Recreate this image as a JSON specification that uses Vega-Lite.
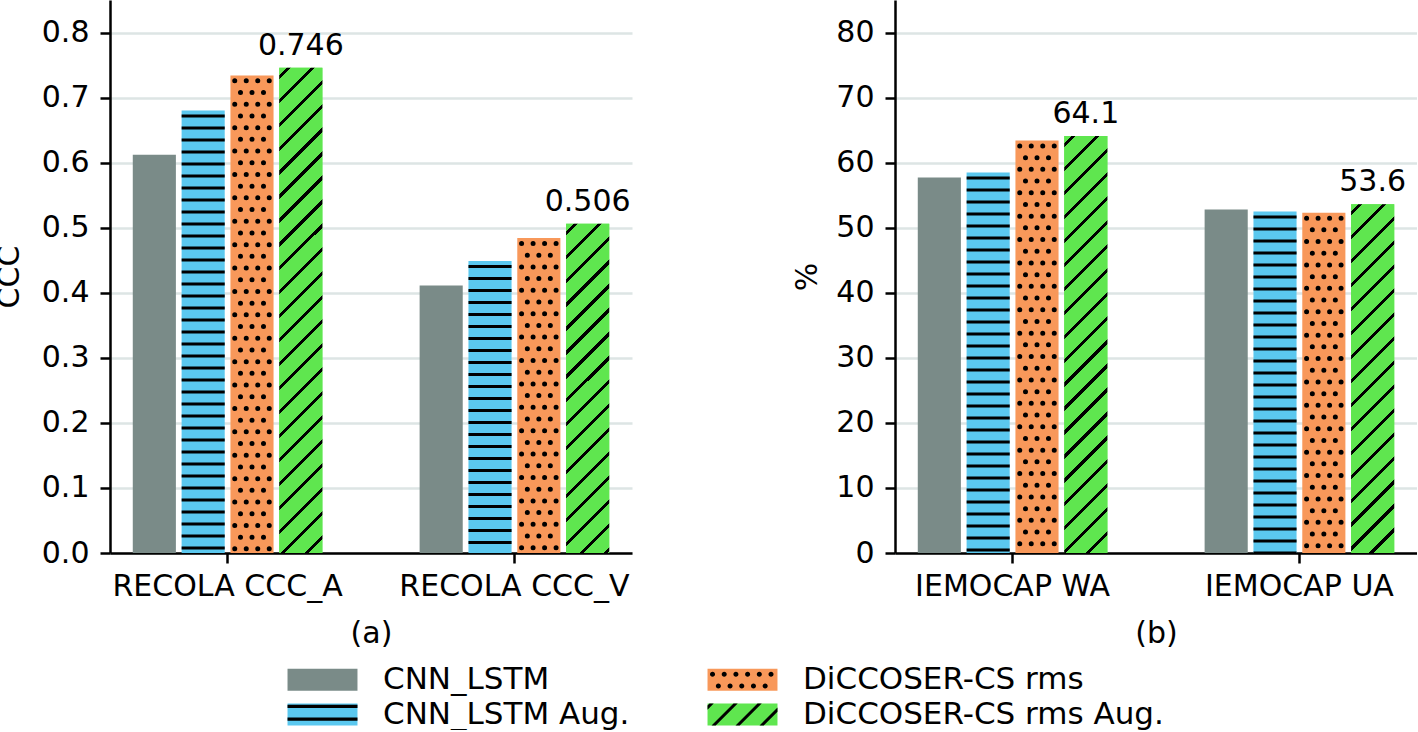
{
  "$schema": "https://vega.github.io/schema/vega-lite/v6.json",
  "padding": {"left": -6, "top": 0, "right": 0, "bottom": 0},
  "spacing": 263,
  "bounds": "flush",
  "resolve": {"scale": {"color": "independent", "shape": "independent"}, "legend": {"color": "independent", "shape": "independent"}},
  "datasets": {
    "bars": [
      {"panel": "a", "group": "RECOLA CCC_A", "series": "CNN_LSTM", "value": 0.612},
      {"panel": "a", "group": "RECOLA CCC_A", "series": "CNN_LSTM Aug.", "value": 0.680},
      {"panel": "a", "group": "RECOLA CCC_A", "series": "DiCCOSER-CS rms", "value": 0.734},
      {"panel": "a", "group": "RECOLA CCC_A", "series": "DiCCOSER-CS rms Aug.", "value": 0.746},
      {"panel": "a", "group": "RECOLA CCC_V", "series": "CNN_LSTM", "value": 0.411},
      {"panel": "a", "group": "RECOLA CCC_V", "series": "CNN_LSTM Aug.", "value": 0.449},
      {"panel": "a", "group": "RECOLA CCC_V", "series": "DiCCOSER-CS rms", "value": 0.484},
      {"panel": "a", "group": "RECOLA CCC_V", "series": "DiCCOSER-CS rms Aug.", "value": 0.506},
      {"panel": "b", "group": "IEMOCAP WA", "series": "CNN_LSTM", "value": 57.7},
      {"panel": "b", "group": "IEMOCAP WA", "series": "CNN_LSTM Aug.", "value": 58.5},
      {"panel": "b", "group": "IEMOCAP WA", "series": "DiCCOSER-CS rms", "value": 63.4},
      {"panel": "b", "group": "IEMOCAP WA", "series": "DiCCOSER-CS rms Aug.", "value": 64.1},
      {"panel": "b", "group": "IEMOCAP UA", "series": "CNN_LSTM", "value": 52.8},
      {"panel": "b", "group": "IEMOCAP UA", "series": "CNN_LSTM Aug.", "value": 52.5},
      {"panel": "b", "group": "IEMOCAP UA", "series": "DiCCOSER-CS rms", "value": 52.3},
      {"panel": "b", "group": "IEMOCAP UA", "series": "DiCCOSER-CS rms Aug.", "value": 53.6}
    ]
  },
  "config": {
    "font": "DejaVu Sans",
    "view": {"stroke": null},
    "axis": {"labelFont": "DejaVu Sans", "labelFontSize": 30, "labelColor": "#000", "labelLimit": 0, "titleFont": "DejaVu Sans", "titleFontSize": 30, "titleFontWeight": "normal", "titleColor": "#000", "domainColor": "#000", "domainWidth": 2.5, "tickColor": "#000", "tickWidth": 2.5, "tickSize": 10},
    "axisX": {"grid": false, "labelAngle": 0, "labelPadding": 8, "titlePadding": 17},
    "axisY": {"grid": true, "gridColor": "#dde5e4", "gridWidth": 2.5, "labelPadding": 11}
  },
  "hconcat": [
    {
      "width": 522, "height": 553,
      "data": {"name": "bars"},
      "transform": [{"filter": "datum.panel === 'a'"}],
      "layer": [
        {
          "mark": {"type": "bar"},
          "encoding": {
            "x": {"field": "group", "type": "nominal", "sort": ["RECOLA CCC_A", "RECOLA CCC_V"], "title": "(a)", "scale": {"paddingInner": 0.339, "paddingOuter": 0.0794}},
            "xOffset": {"field": "series", "type": "nominal", "sort": ["CNN_LSTM", "CNN_LSTM Aug.", "DiCCOSER-CS rms", "DiCCOSER-CS rms Aug."], "scale": {"paddingInner": 0.117, "paddingOuter": 0}},
            "y": {"field": "value", "type": "quantitative", "title": "CCC", "scale": {"domain": [0, 0.85], "nice": false}, "axis": {"values": [0, 0.1, 0.2, 0.3, 0.4, 0.5, 0.6, 0.7, 0.8], "format": ".1f", "titlePadding": 17}},
            "color": {"field": "series", "type": "nominal",
              "scale": {"domain": ["CNN_LSTM", "CNN_LSTM Aug.", "DiCCOSER-CS rms", "DiCCOSER-CS rms Aug."], "range": ["#7a8b88", "#5bc8ef", "#f8985a", "#5fe64f"]},
              "legend": {"orient": "none", "legendX": 197, "legendY": 664, "columns": 2, "title": null, "padding": 0, "zindex": 0,
                "symbolType": "M-3.18,-1H3.18V1H-3.18Z", "symbolSize": 484, "symbolStrokeWidth": 0, "symbolOpacity": 1,
                "labelFontSize": 31, "labelFont": "DejaVu Sans", "labelColor": "#000", "labelLimit": 0, "labelOffset": 45, "rowPadding": 3, "columnPadding": 77}
            }
          }
        },
        {
          "mark": {"type": "point", "filled": true, "opacity": 0, "color": "#000"},
          "encoding": {
            "x": {"field": "group", "type": "nominal", "sort": ["RECOLA CCC_A", "RECOLA CCC_V"], "title": "(a)"},
            "y": {"field": "value", "type": "quantitative", "title": "CCC", "scale": {"domain": [0, 0.85], "nice": false}},
            "shape": {"field": "series", "type": "nominal", "sort": ["CNN_LSTM", "CNN_LSTM Aug.", "DiCCOSER-CS rms", "DiCCOSER-CS rms Aug."],
              "scale": {
                "range": [
                  "M0,0Z",
                  "M-3.18,-0.88H3.18V-0.58H-3.18ZM-3.18,0.27H3.18V0.57H-3.18Z",
                  "M-2.955,-0.5a0.23,0.23 0 1,0 0.46,0a0.23,0.23 0 1,0 -0.46,0M-1.892,-0.5a0.23,0.23 0 1,0 0.46,0a0.23,0.23 0 1,0 -0.46,0M-0.828,-0.5a0.23,0.23 0 1,0 0.46,0a0.23,0.23 0 1,0 -0.46,0M0.235,-0.5a0.23,0.23 0 1,0 0.46,0a0.23,0.23 0 1,0 -0.46,0M1.299,-0.5a0.23,0.23 0 1,0 0.46,0a0.23,0.23 0 1,0 -0.46,0M2.363,-0.5a0.23,0.23 0 1,0 0.46,0a0.23,0.23 0 1,0 -0.46,0M-2.424,0.564a0.23,0.23 0 1,0 0.46,0a0.23,0.23 0 1,0 -0.46,0M-1.36,0.564a0.23,0.23 0 1,0 0.46,0a0.23,0.23 0 1,0 -0.46,0M-0.296,0.564a0.23,0.23 0 1,0 0.46,0a0.23,0.23 0 1,0 -0.46,0M0.767,0.564a0.23,0.23 0 1,0 0.46,0a0.23,0.23 0 1,0 -0.46,0M1.831,0.564a0.23,0.23 0 1,0 0.46,0a0.23,0.23 0 1,0 -0.46,0",
                  "M-2.998,-1L-2.616,-1L-3.18,-0.436L-3.18,-0.818ZM-0.816,-1L-0.435,-1L-2.435,1L-2.816,1ZM1.365,-1L1.747,-1L-0.253,1L-0.635,1ZM3.18,-0.636L3.18,-0.255L1.929,1L1.547,1Z"
                ]},
              "legend": {"orient": "none", "legendX": 197, "legendY": 664, "columns": 2, "title": null, "padding": 0, "zindex": 1,
                "symbolSize": 484, "symbolStrokeWidth": 0, "symbolOpacity": 1, "symbolFillColor": "#000",
                "labelFontSize": 31, "labelFont": "DejaVu Sans", "labelColor": "transparent", "labelLimit": 0, "labelOffset": 45, "rowPadding": 3, "columnPadding": 77}
            }
          }
        },
        {
          "transform": [{"filter": "datum.series === 'CNN_LSTM Aug.'"}],
          "mark": {"type": "rule", "color": "#000", "strokeWidth": 43.1, "strokeDash": [3, 9], "strokeDashOffset": 8},
          "encoding": {
            "x": {"field": "group", "type": "nominal", "sort": ["RECOLA CCC_A", "RECOLA CCC_V"], "title": "(a)", "bandPosition": 0.3713},
            "y": {"field": "value", "type": "quantitative", "title": "CCC", "scale": {"domain": [0, 0.85], "nice": false}},
            "y2": {"datum": 0}
          }
        },
        {
          "transform": [{"filter": "datum.series === 'DiCCOSER-CS rms'"}],
          "mark": {"type": "rule", "color": "#000", "strokeWidth": 5, "strokeCap": "round", "strokeDash": [0, 23.4], "strokeDashOffset": 18, "xOffset": -17.25},
          "encoding": {"x": {"field": "group", "type": "nominal", "sort": ["RECOLA CCC_A", "RECOLA CCC_V"], "title": "(a)", "bandPosition": 0.6288}, "y": {"field": "value", "type": "quantitative", "title": "CCC", "scale": {"domain": [0, 0.85], "nice": false}}, "y2": {"datum": 0}}
        },
        {
          "transform": [{"filter": "datum.series === 'DiCCOSER-CS rms'"}],
          "mark": {"type": "rule", "color": "#000", "strokeWidth": 5, "strokeCap": "round", "strokeDash": [0, 23.4], "strokeDashOffset": 6.3, "xOffset": -11.5},
          "encoding": {"x": {"field": "group", "type": "nominal", "sort": ["RECOLA CCC_A", "RECOLA CCC_V"], "title": "(a)", "bandPosition": 0.6288}, "y": {"field": "value", "type": "quantitative", "title": "CCC", "scale": {"domain": [0, 0.85], "nice": false}}, "y2": {"datum": 0}}
        },
        {
          "transform": [{"filter": "datum.series === 'DiCCOSER-CS rms'"}],
          "mark": {"type": "rule", "color": "#000", "strokeWidth": 5, "strokeCap": "round", "strokeDash": [0, 23.4], "strokeDashOffset": 18, "xOffset": -5.75},
          "encoding": {"x": {"field": "group", "type": "nominal", "sort": ["RECOLA CCC_A", "RECOLA CCC_V"], "title": "(a)", "bandPosition": 0.6288}, "y": {"field": "value", "type": "quantitative", "title": "CCC", "scale": {"domain": [0, 0.85], "nice": false}}, "y2": {"datum": 0}}
        },
        {
          "transform": [{"filter": "datum.series === 'DiCCOSER-CS rms'"}],
          "mark": {"type": "rule", "color": "#000", "strokeWidth": 5, "strokeCap": "round", "strokeDash": [0, 23.4], "strokeDashOffset": 6.3, "xOffset": 0.01},
          "encoding": {"x": {"field": "group", "type": "nominal", "sort": ["RECOLA CCC_A", "RECOLA CCC_V"], "title": "(a)", "bandPosition": 0.6288}, "y": {"field": "value", "type": "quantitative", "title": "CCC", "scale": {"domain": [0, 0.85], "nice": false}}, "y2": {"datum": 0}}
        },
        {
          "transform": [{"filter": "datum.series === 'DiCCOSER-CS rms'"}],
          "mark": {"type": "rule", "color": "#000", "strokeWidth": 5, "strokeCap": "round", "strokeDash": [0, 23.4], "strokeDashOffset": 18, "xOffset": 5.75},
          "encoding": {"x": {"field": "group", "type": "nominal", "sort": ["RECOLA CCC_A", "RECOLA CCC_V"], "title": "(a)", "bandPosition": 0.6288}, "y": {"field": "value", "type": "quantitative", "title": "CCC", "scale": {"domain": [0, 0.85], "nice": false}}, "y2": {"datum": 0}}
        },
        {
          "transform": [{"filter": "datum.series === 'DiCCOSER-CS rms'"}],
          "mark": {"type": "rule", "color": "#000", "strokeWidth": 5, "strokeCap": "round", "strokeDash": [0, 23.4], "strokeDashOffset": 6.3, "xOffset": 11.5},
          "encoding": {"x": {"field": "group", "type": "nominal", "sort": ["RECOLA CCC_A", "RECOLA CCC_V"], "title": "(a)", "bandPosition": 0.6288}, "y": {"field": "value", "type": "quantitative", "title": "CCC", "scale": {"domain": [0, 0.85], "nice": false}}, "y2": {"datum": 0}}
        },
        {
          "transform": [{"filter": "datum.series === 'DiCCOSER-CS rms'"}],
          "mark": {"type": "rule", "color": "#000", "strokeWidth": 5, "strokeCap": "round", "strokeDash": [0, 23.4], "strokeDashOffset": 18, "xOffset": 17.25},
          "encoding": {"x": {"field": "group", "type": "nominal", "sort": ["RECOLA CCC_A", "RECOLA CCC_V"], "title": "(a)", "bandPosition": 0.6288}, "y": {"field": "value", "type": "quantitative", "title": "CCC", "scale": {"domain": [0, 0.85], "nice": false}}, "y2": {"datum": 0}}
        },
        {
          "transform": [{"filter": "datum.series === 'DiCCOSER-CS rms Aug.' && datum.group === 'RECOLA CCC_A'"}],
          "mark": {"type": "bar", "fill": {"gradient": "linear", "x1": 0, "y1": 0, "x2": 0.09593, "y2": 1.0802, "stops": [
            {"offset": 0, "color": "#5fe64f"},
            {"offset": 0.0136, "color": "#5fe64f"}, {"offset": 0.0136, "color": "#000"}, {"offset": 0.0215, "color": "#000"}, {"offset": 0.0215, "color": "#5fe64f"},
            {"offset": 0.0590, "color": "#5fe64f"}, {"offset": 0.0590, "color": "#000"}, {"offset": 0.0669, "color": "#000"}, {"offset": 0.0669, "color": "#5fe64f"},
            {"offset": 0.1043, "color": "#5fe64f"}, {"offset": 0.1043, "color": "#000"}, {"offset": 0.1122, "color": "#000"}, {"offset": 0.1122, "color": "#5fe64f"},
            {"offset": 0.1497, "color": "#5fe64f"}, {"offset": 0.1497, "color": "#000"}, {"offset": 0.1576, "color": "#000"}, {"offset": 0.1576, "color": "#5fe64f"},
            {"offset": 0.1950, "color": "#5fe64f"}, {"offset": 0.1950, "color": "#000"}, {"offset": 0.2029, "color": "#000"}, {"offset": 0.2029, "color": "#5fe64f"},
            {"offset": 0.2404, "color": "#5fe64f"}, {"offset": 0.2404, "color": "#000"}, {"offset": 0.2483, "color": "#000"}, {"offset": 0.2483, "color": "#5fe64f"},
            {"offset": 0.2857, "color": "#5fe64f"}, {"offset": 0.2857, "color": "#000"}, {"offset": 0.2936, "color": "#000"}, {"offset": 0.2936, "color": "#5fe64f"},
            {"offset": 0.3311, "color": "#5fe64f"}, {"offset": 0.3311, "color": "#000"}, {"offset": 0.3390, "color": "#000"}, {"offset": 0.3390, "color": "#5fe64f"},
            {"offset": 0.3764, "color": "#5fe64f"}, {"offset": 0.3764, "color": "#000"}, {"offset": 0.3843, "color": "#000"}, {"offset": 0.3843, "color": "#5fe64f"},
            {"offset": 0.4218, "color": "#5fe64f"}, {"offset": 0.4218, "color": "#000"}, {"offset": 0.4297, "color": "#000"}, {"offset": 0.4297, "color": "#5fe64f"},
            {"offset": 0.4671, "color": "#5fe64f"}, {"offset": 0.4671, "color": "#000"}, {"offset": 0.4750, "color": "#000"}, {"offset": 0.4750, "color": "#5fe64f"},
            {"offset": 0.5125, "color": "#5fe64f"}, {"offset": 0.5125, "color": "#000"}, {"offset": 0.5204, "color": "#000"}, {"offset": 0.5204, "color": "#5fe64f"},
            {"offset": 0.5578, "color": "#5fe64f"}, {"offset": 0.5578, "color": "#000"}, {"offset": 0.5657, "color": "#000"}, {"offset": 0.5657, "color": "#5fe64f"},
            {"offset": 0.6032, "color": "#5fe64f"}, {"offset": 0.6032, "color": "#000"}, {"offset": 0.6111, "color": "#000"}, {"offset": 0.6111, "color": "#5fe64f"},
            {"offset": 0.6485, "color": "#5fe64f"}, {"offset": 0.6485, "color": "#000"}, {"offset": 0.6564, "color": "#000"}, {"offset": 0.6564, "color": "#5fe64f"},
            {"offset": 0.6939, "color": "#5fe64f"}, {"offset": 0.6939, "color": "#000"}, {"offset": 0.7018, "color": "#000"}, {"offset": 0.7018, "color": "#5fe64f"},
            {"offset": 0.7392, "color": "#5fe64f"}, {"offset": 0.7392, "color": "#000"}, {"offset": 0.7471, "color": "#000"}, {"offset": 0.7471, "color": "#5fe64f"},
            {"offset": 0.7846, "color": "#5fe64f"}, {"offset": 0.7846, "color": "#000"}, {"offset": 0.7925, "color": "#000"}, {"offset": 0.7925, "color": "#5fe64f"},
            {"offset": 0.8299, "color": "#5fe64f"}, {"offset": 0.8299, "color": "#000"}, {"offset": 0.8378, "color": "#000"}, {"offset": 0.8378, "color": "#5fe64f"},
            {"offset": 0.8753, "color": "#5fe64f"}, {"offset": 0.8753, "color": "#000"}, {"offset": 0.8832, "color": "#000"}, {"offset": 0.8832, "color": "#5fe64f"},
            {"offset": 0.9206, "color": "#5fe64f"}, {"offset": 0.9206, "color": "#000"}, {"offset": 0.9285, "color": "#000"}, {"offset": 0.9285, "color": "#5fe64f"},
            {"offset": 0.9660, "color": "#5fe64f"}, {"offset": 0.9660, "color": "#000"}, {"offset": 0.9739, "color": "#000"}, {"offset": 0.9739, "color": "#5fe64f"},
            {"offset": 1, "color": "#5fe64f"}]}},
          "encoding": {
            "x": {"field": "group", "type": "nominal", "sort": ["RECOLA CCC_A", "RECOLA CCC_V"], "title": "(a)"},
            "xOffset": {"field": "series", "type": "nominal", "sort": ["CNN_LSTM", "CNN_LSTM Aug.", "DiCCOSER-CS rms", "DiCCOSER-CS rms Aug."], "scale": {"domain": ["CNN_LSTM", "CNN_LSTM Aug.", "DiCCOSER-CS rms", "DiCCOSER-CS rms Aug."], "paddingInner": 0.117, "paddingOuter": 0}},
            "y": {"field": "value", "type": "quantitative", "title": "CCC", "scale": {"domain": [0, 0.85], "nice": false}}
          }
        },
        {
          "transform": [{"filter": "datum.series === 'DiCCOSER-CS rms Aug.' && datum.group === 'RECOLA CCC_V'"}],
          "mark": {"type": "bar", "fill": {"gradient": "linear", "x1": 0, "y1": 0, "x2": 0.14557, "y2": 1.1119, "stops": [
            {"offset": 0, "color": "#5fe64f"},
            {"offset": 0.0193, "color": "#5fe64f"}, {"offset": 0.0193, "color": "#000"}, {"offset": 0.0306, "color": "#000"}, {"offset": 0.0306, "color": "#5fe64f"},
            {"offset": 0.0836, "color": "#5fe64f"}, {"offset": 0.0836, "color": "#000"}, {"offset": 0.0949, "color": "#000"}, {"offset": 0.0949, "color": "#5fe64f"},
            {"offset": 0.1480, "color": "#5fe64f"}, {"offset": 0.1480, "color": "#000"}, {"offset": 0.1593, "color": "#000"}, {"offset": 0.1593, "color": "#5fe64f"},
            {"offset": 0.2123, "color": "#5fe64f"}, {"offset": 0.2123, "color": "#000"}, {"offset": 0.2236, "color": "#000"}, {"offset": 0.2236, "color": "#5fe64f"},
            {"offset": 0.2767, "color": "#5fe64f"}, {"offset": 0.2767, "color": "#000"}, {"offset": 0.2880, "color": "#000"}, {"offset": 0.2880, "color": "#5fe64f"},
            {"offset": 0.3410, "color": "#5fe64f"}, {"offset": 0.3410, "color": "#000"}, {"offset": 0.3523, "color": "#000"}, {"offset": 0.3523, "color": "#5fe64f"},
            {"offset": 0.4053, "color": "#5fe64f"}, {"offset": 0.4053, "color": "#000"}, {"offset": 0.4166, "color": "#000"}, {"offset": 0.4166, "color": "#5fe64f"},
            {"offset": 0.4697, "color": "#5fe64f"}, {"offset": 0.4697, "color": "#000"}, {"offset": 0.4810, "color": "#000"}, {"offset": 0.4810, "color": "#5fe64f"},
            {"offset": 0.5340, "color": "#5fe64f"}, {"offset": 0.5340, "color": "#000"}, {"offset": 0.5453, "color": "#000"}, {"offset": 0.5453, "color": "#5fe64f"},
            {"offset": 0.5984, "color": "#5fe64f"}, {"offset": 0.5984, "color": "#000"}, {"offset": 0.6097, "color": "#000"}, {"offset": 0.6097, "color": "#5fe64f"},
            {"offset": 0.6627, "color": "#5fe64f"}, {"offset": 0.6627, "color": "#000"}, {"offset": 0.6740, "color": "#000"}, {"offset": 0.6740, "color": "#5fe64f"},
            {"offset": 0.7270, "color": "#5fe64f"}, {"offset": 0.7270, "color": "#000"}, {"offset": 0.7383, "color": "#000"}, {"offset": 0.7383, "color": "#5fe64f"},
            {"offset": 0.7914, "color": "#5fe64f"}, {"offset": 0.7914, "color": "#000"}, {"offset": 0.8027, "color": "#000"}, {"offset": 0.8027, "color": "#5fe64f"},
            {"offset": 0.8557, "color": "#5fe64f"}, {"offset": 0.8557, "color": "#000"}, {"offset": 0.8670, "color": "#000"}, {"offset": 0.8670, "color": "#5fe64f"},
            {"offset": 0.9201, "color": "#5fe64f"}, {"offset": 0.9201, "color": "#000"}, {"offset": 0.9314, "color": "#000"}, {"offset": 0.9314, "color": "#5fe64f"},
            {"offset": 0.9844, "color": "#5fe64f"}, {"offset": 0.9844, "color": "#000"}, {"offset": 0.9957, "color": "#000"}, {"offset": 0.9957, "color": "#5fe64f"},
            {"offset": 1, "color": "#5fe64f"}]}},
          "encoding": {
            "x": {"field": "group", "type": "nominal", "sort": ["RECOLA CCC_A", "RECOLA CCC_V"], "title": "(a)"},
            "xOffset": {"field": "series", "type": "nominal", "sort": ["CNN_LSTM", "CNN_LSTM Aug.", "DiCCOSER-CS rms", "DiCCOSER-CS rms Aug."], "scale": {"domain": ["CNN_LSTM", "CNN_LSTM Aug.", "DiCCOSER-CS rms", "DiCCOSER-CS rms Aug."], "paddingInner": 0.117, "paddingOuter": 0}},
            "y": {"field": "value", "type": "quantitative", "title": "CCC", "scale": {"domain": [0, 0.85], "nice": false}}
          }
        },
        {
          "transform": [{"filter": "datum.series === 'DiCCOSER-CS rms Aug.'"}],
          "mark": {"type": "text", "fontSize": 30, "font": "DejaVu Sans", "color": "#000", "baseline": "alphabetic", "dy": -13},
          "encoding": {
            "x": {"field": "group", "type": "nominal", "sort": ["RECOLA CCC_A", "RECOLA CCC_V"], "title": "(a)", "bandPosition": 0.8863},
            "y": {"field": "value", "type": "quantitative", "title": "CCC", "scale": {"domain": [0, 0.85], "nice": false}},
            "text": {"field": "value", "type": "quantitative", "format": ".3f"}
          }
        }
      ]
    },
    {
      "width": 522, "height": 553,
      "data": {"name": "bars"},
      "transform": [{"filter": "datum.panel === 'b'"}],
      "layer": [
        {
          "mark": {"type": "bar"},
          "encoding": {
            "x": {"field": "group", "type": "nominal", "sort": ["IEMOCAP WA", "IEMOCAP UA"], "title": "(b)", "scale": {"paddingInner": 0.339, "paddingOuter": 0.0794}},
            "xOffset": {"field": "series", "type": "nominal", "sort": ["CNN_LSTM", "CNN_LSTM Aug.", "DiCCOSER-CS rms", "DiCCOSER-CS rms Aug."], "scale": {"paddingInner": 0.117, "paddingOuter": 0}},
            "y": {"field": "value", "type": "quantitative", "title": "%", "scale": {"domain": [0, 85], "nice": false}, "axis": {"values": [0, 10, 20, 30, 40, 50, 60, 70, 80], "format": "d", "titlePadding": 13}},
            "color": {"field": "series", "type": "nominal",
              "scale": {"domain": ["CNN_LSTM", "CNN_LSTM Aug.", "DiCCOSER-CS rms", "DiCCOSER-CS rms Aug."], "range": ["#7a8b88", "#5bc8ef", "#f8985a", "#5fe64f"]},
              "legend": null
            }
          }
        },
        {
          "transform": [{"filter": "datum.series === 'CNN_LSTM Aug.'"}],
          "mark": {"type": "rule", "color": "#000", "strokeWidth": 43.1, "strokeDash": [3, 9], "strokeDashOffset": 8},
          "encoding": {
            "x": {"field": "group", "type": "nominal", "sort": ["IEMOCAP WA", "IEMOCAP UA"], "title": "(b)", "bandPosition": 0.3713},
            "y": {"field": "value", "type": "quantitative", "title": "%", "scale": {"domain": [0, 85], "nice": false}},
            "y2": {"datum": 0}
          }
        },
        {
          "transform": [{"filter": "datum.series === 'DiCCOSER-CS rms'"}],
          "mark": {"type": "rule", "color": "#000", "strokeWidth": 5, "strokeCap": "round", "strokeDash": [0, 23.4], "strokeDashOffset": 18, "xOffset": -17.25},
          "encoding": {"x": {"field": "group", "type": "nominal", "sort": ["IEMOCAP WA", "IEMOCAP UA"], "title": "(b)", "bandPosition": 0.6288}, "y": {"field": "value", "type": "quantitative", "title": "%", "scale": {"domain": [0, 85], "nice": false}}, "y2": {"datum": 0}}
        },
        {
          "transform": [{"filter": "datum.series === 'DiCCOSER-CS rms'"}],
          "mark": {"type": "rule", "color": "#000", "strokeWidth": 5, "strokeCap": "round", "strokeDash": [0, 23.4], "strokeDashOffset": 6.3, "xOffset": -11.5},
          "encoding": {"x": {"field": "group", "type": "nominal", "sort": ["IEMOCAP WA", "IEMOCAP UA"], "title": "(b)", "bandPosition": 0.6288}, "y": {"field": "value", "type": "quantitative", "title": "%", "scale": {"domain": [0, 85], "nice": false}}, "y2": {"datum": 0}}
        },
        {
          "transform": [{"filter": "datum.series === 'DiCCOSER-CS rms'"}],
          "mark": {"type": "rule", "color": "#000", "strokeWidth": 5, "strokeCap": "round", "strokeDash": [0, 23.4], "strokeDashOffset": 18, "xOffset": -5.75},
          "encoding": {"x": {"field": "group", "type": "nominal", "sort": ["IEMOCAP WA", "IEMOCAP UA"], "title": "(b)", "bandPosition": 0.6288}, "y": {"field": "value", "type": "quantitative", "title": "%", "scale": {"domain": [0, 85], "nice": false}}, "y2": {"datum": 0}}
        },
        {
          "transform": [{"filter": "datum.series === 'DiCCOSER-CS rms'"}],
          "mark": {"type": "rule", "color": "#000", "strokeWidth": 5, "strokeCap": "round", "strokeDash": [0, 23.4], "strokeDashOffset": 6.3, "xOffset": 0.01},
          "encoding": {"x": {"field": "group", "type": "nominal", "sort": ["IEMOCAP WA", "IEMOCAP UA"], "title": "(b)", "bandPosition": 0.6288}, "y": {"field": "value", "type": "quantitative", "title": "%", "scale": {"domain": [0, 85], "nice": false}}, "y2": {"datum": 0}}
        },
        {
          "transform": [{"filter": "datum.series === 'DiCCOSER-CS rms'"}],
          "mark": {"type": "rule", "color": "#000", "strokeWidth": 5, "strokeCap": "round", "strokeDash": [0, 23.4], "strokeDashOffset": 18, "xOffset": 5.75},
          "encoding": {"x": {"field": "group", "type": "nominal", "sort": ["IEMOCAP WA", "IEMOCAP UA"], "title": "(b)", "bandPosition": 0.6288}, "y": {"field": "value", "type": "quantitative", "title": "%", "scale": {"domain": [0, 85], "nice": false}}, "y2": {"datum": 0}}
        },
        {
          "transform": [{"filter": "datum.series === 'DiCCOSER-CS rms'"}],
          "mark": {"type": "rule", "color": "#000", "strokeWidth": 5, "strokeCap": "round", "strokeDash": [0, 23.4], "strokeDashOffset": 6.3, "xOffset": 11.5},
          "encoding": {"x": {"field": "group", "type": "nominal", "sort": ["IEMOCAP WA", "IEMOCAP UA"], "title": "(b)", "bandPosition": 0.6288}, "y": {"field": "value", "type": "quantitative", "title": "%", "scale": {"domain": [0, 85], "nice": false}}, "y2": {"datum": 0}}
        },
        {
          "transform": [{"filter": "datum.series === 'DiCCOSER-CS rms'"}],
          "mark": {"type": "rule", "color": "#000", "strokeWidth": 5, "strokeCap": "round", "strokeDash": [0, 23.4], "strokeDashOffset": 18, "xOffset": 17.25},
          "encoding": {"x": {"field": "group", "type": "nominal", "sort": ["IEMOCAP WA", "IEMOCAP UA"], "title": "(b)", "bandPosition": 0.6288}, "y": {"field": "value", "type": "quantitative", "title": "%", "scale": {"domain": [0, 85], "nice": false}}, "y2": {"datum": 0}}
        },
        {
          "transform": [{"filter": "datum.series === 'DiCCOSER-CS rms Aug.' && datum.group === 'IEMOCAP WA'"}],
          "mark": {"type": "bar", "fill": {"gradient": "linear", "x1": 0, "y1": 0, "x2": 0.11283, "y2": 1.0916, "stops": [
            {"offset": 0, "color": "#5fe64f"},
            {"offset": 0.0156, "color": "#5fe64f"}, {"offset": 0.0156, "color": "#000"}, {"offset": 0.0247, "color": "#000"}, {"offset": 0.0247, "color": "#5fe64f"},
            {"offset": 0.0677, "color": "#5fe64f"}, {"offset": 0.0677, "color": "#000"}, {"offset": 0.0768, "color": "#000"}, {"offset": 0.0768, "color": "#5fe64f"},
            {"offset": 0.1197, "color": "#5fe64f"}, {"offset": 0.1197, "color": "#000"}, {"offset": 0.1288, "color": "#000"}, {"offset": 0.1288, "color": "#5fe64f"},
            {"offset": 0.1718, "color": "#5fe64f"}, {"offset": 0.1718, "color": "#000"}, {"offset": 0.1809, "color": "#000"}, {"offset": 0.1809, "color": "#5fe64f"},
            {"offset": 0.2239, "color": "#5fe64f"}, {"offset": 0.2239, "color": "#000"}, {"offset": 0.2330, "color": "#000"}, {"offset": 0.2330, "color": "#5fe64f"},
            {"offset": 0.2760, "color": "#5fe64f"}, {"offset": 0.2760, "color": "#000"}, {"offset": 0.2851, "color": "#000"}, {"offset": 0.2851, "color": "#5fe64f"},
            {"offset": 0.3280, "color": "#5fe64f"}, {"offset": 0.3280, "color": "#000"}, {"offset": 0.3371, "color": "#000"}, {"offset": 0.3371, "color": "#5fe64f"},
            {"offset": 0.3801, "color": "#5fe64f"}, {"offset": 0.3801, "color": "#000"}, {"offset": 0.3892, "color": "#000"}, {"offset": 0.3892, "color": "#5fe64f"},
            {"offset": 0.4322, "color": "#5fe64f"}, {"offset": 0.4322, "color": "#000"}, {"offset": 0.4413, "color": "#000"}, {"offset": 0.4413, "color": "#5fe64f"},
            {"offset": 0.4842, "color": "#5fe64f"}, {"offset": 0.4842, "color": "#000"}, {"offset": 0.4933, "color": "#000"}, {"offset": 0.4933, "color": "#5fe64f"},
            {"offset": 0.5363, "color": "#5fe64f"}, {"offset": 0.5363, "color": "#000"}, {"offset": 0.5454, "color": "#000"}, {"offset": 0.5454, "color": "#5fe64f"},
            {"offset": 0.5884, "color": "#5fe64f"}, {"offset": 0.5884, "color": "#000"}, {"offset": 0.5975, "color": "#000"}, {"offset": 0.5975, "color": "#5fe64f"},
            {"offset": 0.6404, "color": "#5fe64f"}, {"offset": 0.6404, "color": "#000"}, {"offset": 0.6495, "color": "#000"}, {"offset": 0.6495, "color": "#5fe64f"},
            {"offset": 0.6925, "color": "#5fe64f"}, {"offset": 0.6925, "color": "#000"}, {"offset": 0.7016, "color": "#000"}, {"offset": 0.7016, "color": "#5fe64f"},
            {"offset": 0.7446, "color": "#5fe64f"}, {"offset": 0.7446, "color": "#000"}, {"offset": 0.7537, "color": "#000"}, {"offset": 0.7537, "color": "#5fe64f"},
            {"offset": 0.7967, "color": "#5fe64f"}, {"offset": 0.7967, "color": "#000"}, {"offset": 0.8058, "color": "#000"}, {"offset": 0.8058, "color": "#5fe64f"},
            {"offset": 0.8487, "color": "#5fe64f"}, {"offset": 0.8487, "color": "#000"}, {"offset": 0.8578, "color": "#000"}, {"offset": 0.8578, "color": "#5fe64f"},
            {"offset": 0.9008, "color": "#5fe64f"}, {"offset": 0.9008, "color": "#000"}, {"offset": 0.9099, "color": "#000"}, {"offset": 0.9099, "color": "#5fe64f"},
            {"offset": 0.9529, "color": "#5fe64f"}, {"offset": 0.9529, "color": "#000"}, {"offset": 0.9620, "color": "#000"}, {"offset": 0.9620, "color": "#5fe64f"},
            {"offset": 1, "color": "#5fe64f"}]}},
          "encoding": {
            "x": {"field": "group", "type": "nominal", "sort": ["IEMOCAP WA", "IEMOCAP UA"], "title": "(b)"},
            "xOffset": {"field": "series", "type": "nominal", "sort": ["CNN_LSTM", "CNN_LSTM Aug.", "DiCCOSER-CS rms", "DiCCOSER-CS rms Aug."], "scale": {"domain": ["CNN_LSTM", "CNN_LSTM Aug.", "DiCCOSER-CS rms", "DiCCOSER-CS rms Aug."], "paddingInner": 0.117, "paddingOuter": 0}},
            "y": {"field": "value", "type": "quantitative", "title": "%", "scale": {"domain": [0, 85], "nice": false}}
          }
        },
        {
          "transform": [{"filter": "datum.series === 'DiCCOSER-CS rms Aug.' && datum.group === 'IEMOCAP UA'"}],
          "mark": {"type": "bar", "fill": {"gradient": "linear", "x1": 0, "y1": 0, "x2": 0.13679, "y2": 1.1067, "stops": [
            {"offset": 0, "color": "#5fe64f"},
            {"offset": 0.0183, "color": "#5fe64f"}, {"offset": 0.0183, "color": "#000"}, {"offset": 0.0290, "color": "#000"}, {"offset": 0.0290, "color": "#5fe64f"},
            {"offset": 0.0794, "color": "#5fe64f"}, {"offset": 0.0794, "color": "#000"}, {"offset": 0.0901, "color": "#000"}, {"offset": 0.0901, "color": "#5fe64f"},
            {"offset": 0.1406, "color": "#5fe64f"}, {"offset": 0.1406, "color": "#000"}, {"offset": 0.1513, "color": "#000"}, {"offset": 0.1513, "color": "#5fe64f"},
            {"offset": 0.2017, "color": "#5fe64f"}, {"offset": 0.2017, "color": "#000"}, {"offset": 0.2124, "color": "#000"}, {"offset": 0.2124, "color": "#5fe64f"},
            {"offset": 0.2628, "color": "#5fe64f"}, {"offset": 0.2628, "color": "#000"}, {"offset": 0.2735, "color": "#000"}, {"offset": 0.2735, "color": "#5fe64f"},
            {"offset": 0.3240, "color": "#5fe64f"}, {"offset": 0.3240, "color": "#000"}, {"offset": 0.3347, "color": "#000"}, {"offset": 0.3347, "color": "#5fe64f"},
            {"offset": 0.3851, "color": "#5fe64f"}, {"offset": 0.3851, "color": "#000"}, {"offset": 0.3958, "color": "#000"}, {"offset": 0.3958, "color": "#5fe64f"},
            {"offset": 0.4462, "color": "#5fe64f"}, {"offset": 0.4462, "color": "#000"}, {"offset": 0.4569, "color": "#000"}, {"offset": 0.4569, "color": "#5fe64f"},
            {"offset": 0.5073, "color": "#5fe64f"}, {"offset": 0.5073, "color": "#000"}, {"offset": 0.5180, "color": "#000"}, {"offset": 0.5180, "color": "#5fe64f"},
            {"offset": 0.5685, "color": "#5fe64f"}, {"offset": 0.5685, "color": "#000"}, {"offset": 0.5792, "color": "#000"}, {"offset": 0.5792, "color": "#5fe64f"},
            {"offset": 0.6296, "color": "#5fe64f"}, {"offset": 0.6296, "color": "#000"}, {"offset": 0.6403, "color": "#000"}, {"offset": 0.6403, "color": "#5fe64f"},
            {"offset": 0.6907, "color": "#5fe64f"}, {"offset": 0.6907, "color": "#000"}, {"offset": 0.7014, "color": "#000"}, {"offset": 0.7014, "color": "#5fe64f"},
            {"offset": 0.7519, "color": "#5fe64f"}, {"offset": 0.7519, "color": "#000"}, {"offset": 0.7626, "color": "#000"}, {"offset": 0.7626, "color": "#5fe64f"},
            {"offset": 0.8130, "color": "#5fe64f"}, {"offset": 0.8130, "color": "#000"}, {"offset": 0.8237, "color": "#000"}, {"offset": 0.8237, "color": "#5fe64f"},
            {"offset": 0.8741, "color": "#5fe64f"}, {"offset": 0.8741, "color": "#000"}, {"offset": 0.8848, "color": "#000"}, {"offset": 0.8848, "color": "#5fe64f"},
            {"offset": 0.9353, "color": "#5fe64f"}, {"offset": 0.9353, "color": "#000"}, {"offset": 0.9460, "color": "#000"}, {"offset": 0.9460, "color": "#5fe64f"},
            {"offset": 1, "color": "#5fe64f"}]}},
          "encoding": {
            "x": {"field": "group", "type": "nominal", "sort": ["IEMOCAP WA", "IEMOCAP UA"], "title": "(b)"},
            "xOffset": {"field": "series", "type": "nominal", "sort": ["CNN_LSTM", "CNN_LSTM Aug.", "DiCCOSER-CS rms", "DiCCOSER-CS rms Aug."], "scale": {"domain": ["CNN_LSTM", "CNN_LSTM Aug.", "DiCCOSER-CS rms", "DiCCOSER-CS rms Aug."], "paddingInner": 0.117, "paddingOuter": 0}},
            "y": {"field": "value", "type": "quantitative", "title": "%", "scale": {"domain": [0, 85], "nice": false}}
          }
        },
        {
          "transform": [{"filter": "datum.series === 'DiCCOSER-CS rms Aug.'"}],
          "mark": {"type": "text", "fontSize": 30, "font": "DejaVu Sans", "color": "#000", "baseline": "alphabetic", "dy": -13},
          "encoding": {
            "x": {"field": "group", "type": "nominal", "sort": ["IEMOCAP WA", "IEMOCAP UA"], "title": "(b)", "bandPosition": 0.8863},
            "y": {"field": "value", "type": "quantitative", "title": "%", "scale": {"domain": [0, 85], "nice": false}},
            "text": {"field": "value", "type": "quantitative", "format": ".1f"}
          }
        }
      ]
    }
  ]
}
